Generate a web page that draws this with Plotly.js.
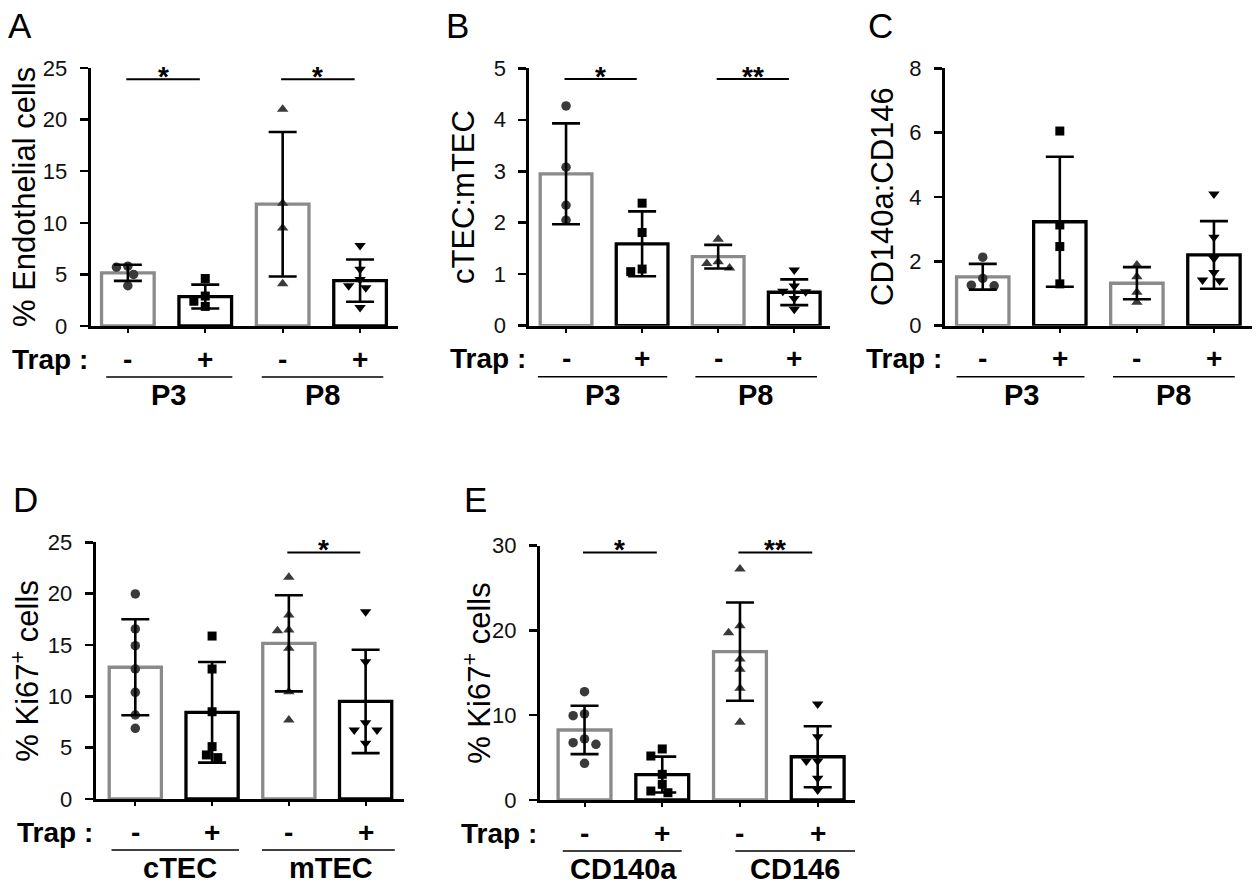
<!DOCTYPE html>
<html><head><meta charset="utf-8">
<script src="https://cdn.plot.ly/plotly-3.0.1.min.js"></script>
<style>html,body{margin:0;padding:0;background:#fff}#chart{width:1260px;height:887px}</style>
</head><body><div id="chart"></div>
<script>
// ================= DATA =================
const trapSigns = ['-', '+', '-', '+'];

// Panel A: % Endothelial cells
const aGroupLabels = ['P3', 'P8'];
const aMeans = [5.15, 2.85, 11.8, 4.4];
const aSD = [0.78, 1.16, 7.0, 2.05];
const aPts0 = [5.8, 5.7, 5.0, 3.9];
const aPts1 = [4.6, 2.9, 2.4, 1.9];
const aPts2 = [21.0, 11.9, 9.5, 4.1];
const aPts3 = [7.8, 5.5, 4.5, 3.9, 3.7, 1.8];
const aSig = ['*', '*'];
const aSigLevel = 23.9;

// Panel B: cTEC:mTEC
const bGroupLabels = ['P3', 'P8'];
const bMeans = [2.95, 1.59, 1.34, 0.65];
const bSD = [0.98, 0.63, 0.23, 0.25];
const bPts0 = [4.27, 3.08, 2.34, 2.05];
const bPts1 = [2.38, 1.81, 1.10, 1.05];
const bPts2 = [1.68, 1.24, 1.21, 1.12];
const bPts3 = [1.08, 0.77, 0.67, 0.66, 0.53, 0.32];
const bSig = ['*', '**'];
const bSigLevel = 4.79;

// Panel C: CD140a:CD146
const cGroupLabels = ['P3', 'P8'];
const cMeans = [1.52, 3.23, 1.32, 2.2];
const cSD = [0.4, 2.02, 0.5, 1.05];
const cPts0 = [2.13, 1.47, 1.26, 1.24];
const cPts1 = [6.05, 3.13, 2.46, 1.3];
const cPts2 = [1.89, 1.52, 1.04, 0.73];
const cPts3 = [4.09, 2.75, 2.09, 1.65, 1.42, 1.4];
const cSig = [null, null];
const cSigLevel = 0;

// Panel D: % Ki67+ cells (TEC)
const dGroupLabels = ['cTEC', 'mTEC'];
const dMeans = [12.83, 8.44, 15.16, 9.5];
const dSD = [4.67, 4.9, 4.68, 5.03];
const dPts0 = [19.97, 16.56, 14.93, 12.66, 10.39, 8.18, 6.88];
const dPts1 = [15.87, 12.66, 8.5, 5.1, 4.29, 4.03];
const dPts2 = [21.6, 17.92, 16.46, 16.39, 14.68, 10.45, 7.7];
const dPts3 = [18.24, 13.37, 7.43, 6.72, 6.72, 5.42];
const dSig = [null, '*'];
const dSigLevel = 24.0;

// Panel E: % Ki67+ cells (CD140a / CD146)
const eGroupLabels = ['CD140a', 'CD146'];
const eMeans = [8.26, 3.0, 17.5, 5.1];
const eSD = [2.85, 2.12, 5.8, 3.6];
const ePts0 = [12.78, 10.15, 9.95, 7.2, 6.76, 6.57, 4.33];
const ePts1 = [6.02, 5.19, 3.03, 1.85, 1.06, 0.86];
const ePts2 = [27.25, 20.57, 19.74, 16.63, 15.42, 13.18, 9.17];
const ePts3 = [11.32, 7.47, 4.6, 4.6, 2.56, 1.18];
const eSig = ['*', '**'];
const eSigLevel = 29.2;

// ================= LAYOUT / STYLE =================
const W = 1260, H = 887;
const FONT = 'Liberation Sans, Arial, Helvetica, sans-serif';
const GRAY = '#8a8a8a';
const DARK = '#3a3a3a';
const symbols = ['circle', 'square', 'triangle-up', 'triangle-down'];
const markerColors = [DARK, '#000000', DARK, '#000000'];
const markerSizes = [9.5, 9, 10, 10];
const barLineColors = [GRAY, '#000000', GRAY, '#000000'];

const panels = [
  {letter: 'A', letterPos: [6, 26], box: [90.7, 398, 68, 326], xr: [-0.48, 3.49], ymax: 25, dtick: 5,
   title: '% Endothelial cells', titleX: 24,
   means: aMeans, sd: aSD, pts: [aPts0, aPts1, aPts2, aPts3], groups: aGroupLabels,
   groupLines: [[-0.28, 1.35], [1.73, 3.3]], groupX: [0.53, 2.52], sig: aSig, sigY: aSigLevel},
  {letter: 'B', letterPos: [444, 26], box: [529.3, 830, 68.3, 325.7], xr: [-0.483, 3.47], ymax: 5, dtick: 1,
   title: 'cTEC:mTEC', titleX: 463,
   means: bMeans, sd: bSD, pts: [bPts0, bPts1, bPts2, bPts3], groups: bGroupLabels,
   groupLines: [[-0.37, 1.33], [1.7, 3.3]], groupX: [0.48, 2.49], sig: bSig, sigY: bSigLevel},
  {letter: 'C', letterPos: [866, 26], box: [945, 1251.7, 68.3, 325.7], xr: [-0.49, 3.49], ymax: 8, dtick: 2,
   title: 'CD140a:CD146', titleX: 882,
   means: cMeans, sd: cSD, pts: [cPts0, cPts1, cPts2, cPts3], groups: cGroupLabels,
   groupLines: [[-0.34, 1.32], [1.69, 3.27]], groupX: [0.5, 2.47], sig: cSig, sigY: cSigLevel},
  {letter: 'D', letterPos: [11, 500], box: [95.7, 404, 542.3, 799], xr: [-0.516, 3.5], ymax: 25, dtick: 5,
   title: '% Ki67<sup>+</sup> cells', titleX: 25,
   means: dMeans, sd: dSD, pts: [dPts0, dPts1, dPts2, dPts3], groups: dGroupLabels,
   groupLines: [[-0.31, 1.35], [1.65, 3.38]], groupX: [0.58, 2.55], sig: dSig, sigY: dSigLevel},
  {letter: 'E', letterPos: [462, 500], box: [540, 855, 545.7, 800], xr: [-0.573, 3.48], ymax: 30, dtick: 10,
   title: '% Ki67<sup>+</sup> cells', titleX: 477,
   means: eMeans, sd: eSD, pts: [ePts0, ePts1, ePts2, ePts3], groups: eGroupLabels,
   groupLines: [[-0.28, 1.25], [1.94, 3.48]], groupX: [0.5, 2.71], sig: eSig, sigY: eSigLevel}
];

const px2x = p => p / W;
const px2y = p => 1 - p / H;

// simple beeswarm spread (computed in pixel space from the values)
function swarm(vals, pxPerY, pxPerCat, diam) {
  const placed = [];
  const res = new Array(vals.length).fill(0);
  const order = vals.map((v, i) => i).sort((a, b) => vals[b] - vals[a]);
  const step = diam * 0.6;
  for (const i of order) {
    const y = vals[i] * pxPerY;
    const cands = [0];
    for (let k = 1; k < 8; k++) { cands.push(-k * step, k * step); }
    let best = 0;
    for (const c of cands) {
      if (placed.every(p => Math.hypot(p.x - c, p.y - y) >= diam)) { best = c; break; }
    }
    placed.push({x: best, y: y});
    res[i] = best / pxPerCat;
  }
  return res;
}

const traces = [];
const layout = {
  width: W, height: H,
  margin: {l: 0, r: 0, t: 0, b: 0},
  paper_bgcolor: '#ffffff', plot_bgcolor: 'rgba(0,0,0,0)',
  showlegend: false, hovermode: false,
  font: {family: FONT, color: '#000'},
  shapes: [], annotations: []
};
const cats = [0, 1, 2, 3];

panels.forEach((p, idx) => {
  const n = idx + 1;
  const xa = 'x' + n, ya = 'y' + n;
  const [L, R, T, B] = p.box;
  const pxPerY = (B - T) / p.ymax;
  const pxPerCat = (R - L) / (p.xr[1] - p.xr[0]);

  layout['xaxis' + n] = {
    domain: [px2x(L), px2x(R)], range: p.xr, anchor: ya,
    showline: true, linewidth: 3, linecolor: '#000', mirror: false,
    ticks: 'outside', tickvals: cats, ticklen: 4, tickwidth: 2, tickcolor: '#000',
    showticklabels: false, showgrid: false, zeroline: false, fixedrange: true
  };
  layout['yaxis' + n] = {
    domain: [px2y(B), px2y(T)], range: [0, p.ymax], anchor: xa,
    showline: true, linewidth: 3, linecolor: '#000',
    ticks: 'outside', tick0: 0, dtick: p.dtick, ticklen: 8, tickwidth: 2.5, tickcolor: '#000',
    tickfont: {size: 22, color: '#111', family: FONT}, ticklabelstandoff: 8,
    showgrid: false, zeroline: false, fixedrange: true
  };
  // y-axis title (rotated text placed beside the axis)
  layout.annotations.push({xref: 'paper', yref: 'paper', x: px2x(p.titleX), y: px2y((T + B) / 2),
    text: p.title, textangle: -90, showarrow: false, xanchor: 'center', yanchor: 'middle',
    font: {size: 31, family: FONT, color: '#000'}});

  // bars
  traces.push({
    type: 'bar', x: cats, y: p.means, width: 0.68, xaxis: xa, yaxis: ya,
    marker: {color: '#ffffff', line: {color: barLineColors, width: 3.3}},
    hoverinfo: 'skip'
  });
  // individual points
  p.pts.forEach((vals, i) => {
    const off = swarm(vals, pxPerY, pxPerCat, 9.5);
    traces.push({
      type: 'scatter', mode: 'markers', xaxis: xa, yaxis: ya,
      x: vals.map((v, k) => cats[i] + off[k]), y: vals,
      marker: {symbol: symbols[i], color: markerColors[i], size: markerSizes[i], line: {width: 0}},
      cliponaxis: false, hoverinfo: 'skip'
    });
  });
  // mean +/- SD error bars
  traces.push({
    type: 'scatter', mode: 'markers', xaxis: xa, yaxis: ya,
    x: cats, y: p.means, marker: {size: 1, opacity: 0},
    error_y: {type: 'data', array: p.sd, visible: true, color: '#000', thickness: 2.6, width: 14},
    cliponaxis: false, hoverinfo: 'skip'
  });

  // significance lines and stars
  p.sig.forEach((s, g) => {
    if (!s) return;
    const i = g * 2, j = g * 2 + 1;
    layout.shapes.push({type: 'line', xref: xa, yref: ya, x0: i - 0.02, x1: j - 0.07,
      y0: p.sigY, y1: p.sigY, line: {color: '#000', width: 2}});
    layout.annotations.push({xref: xa, yref: ya, x: (i + j - 0.09) / 2, y: p.sigY,
      text: '<b>' + s + '</b>', showarrow: false, xanchor: 'center', yanchor: 'middle', yshift: 3,
      font: {size: 28, family: FONT, color: '#000'}});
  });

  // Trap row
  layout.annotations.push({xref: 'paper', yref: 'paper', x: px2x(L - 1), y: px2y(B + 33),
    text: '<b>Trap :</b>', showarrow: false, xanchor: 'right', yanchor: 'middle',
    font: {size: 28, family: FONT, color: '#000'}});
  trapSigns.forEach((s, i) => {
    layout.annotations.push({xref: xa, yref: 'paper', x: cats[i], y: px2y(B + 33),
      text: '<b>' + s + '</b>', showarrow: false, xanchor: 'center', yanchor: 'middle',
      font: {size: 28, family: FONT, color: '#000'}});
  });
  // group lines and labels
  p.groups.forEach((gname, g) => {
    const [g0, g1] = p.groupLines[g];
    layout.shapes.push({type: 'line', xref: xa, yref: 'paper', x0: g0, x1: g1,
      y0: px2y(B + 51), y1: px2y(B + 51), line: {color: '#000', width: 1.5}});
    layout.annotations.push({xref: xa, yref: 'paper', x: p.groupX[g], y: px2y(B + 69),
      text: '<b>' + gname + '</b>', showarrow: false, xanchor: 'center', yanchor: 'middle',
      font: {size: 29, family: FONT, color: '#000'}});
  });
  // panel letter
  layout.annotations.push({xref: 'paper', yref: 'paper', x: px2x(p.letterPos[0]), y: px2y(p.letterPos[1]),
    text: p.letter, showarrow: false, xanchor: 'left', yanchor: 'middle',
    font: {size: 35, family: FONT, color: '#000'}});
});

Plotly.newPlot('chart', traces, layout, {staticPlot: true, displayModeBar: false});
</script>
</body></html>
